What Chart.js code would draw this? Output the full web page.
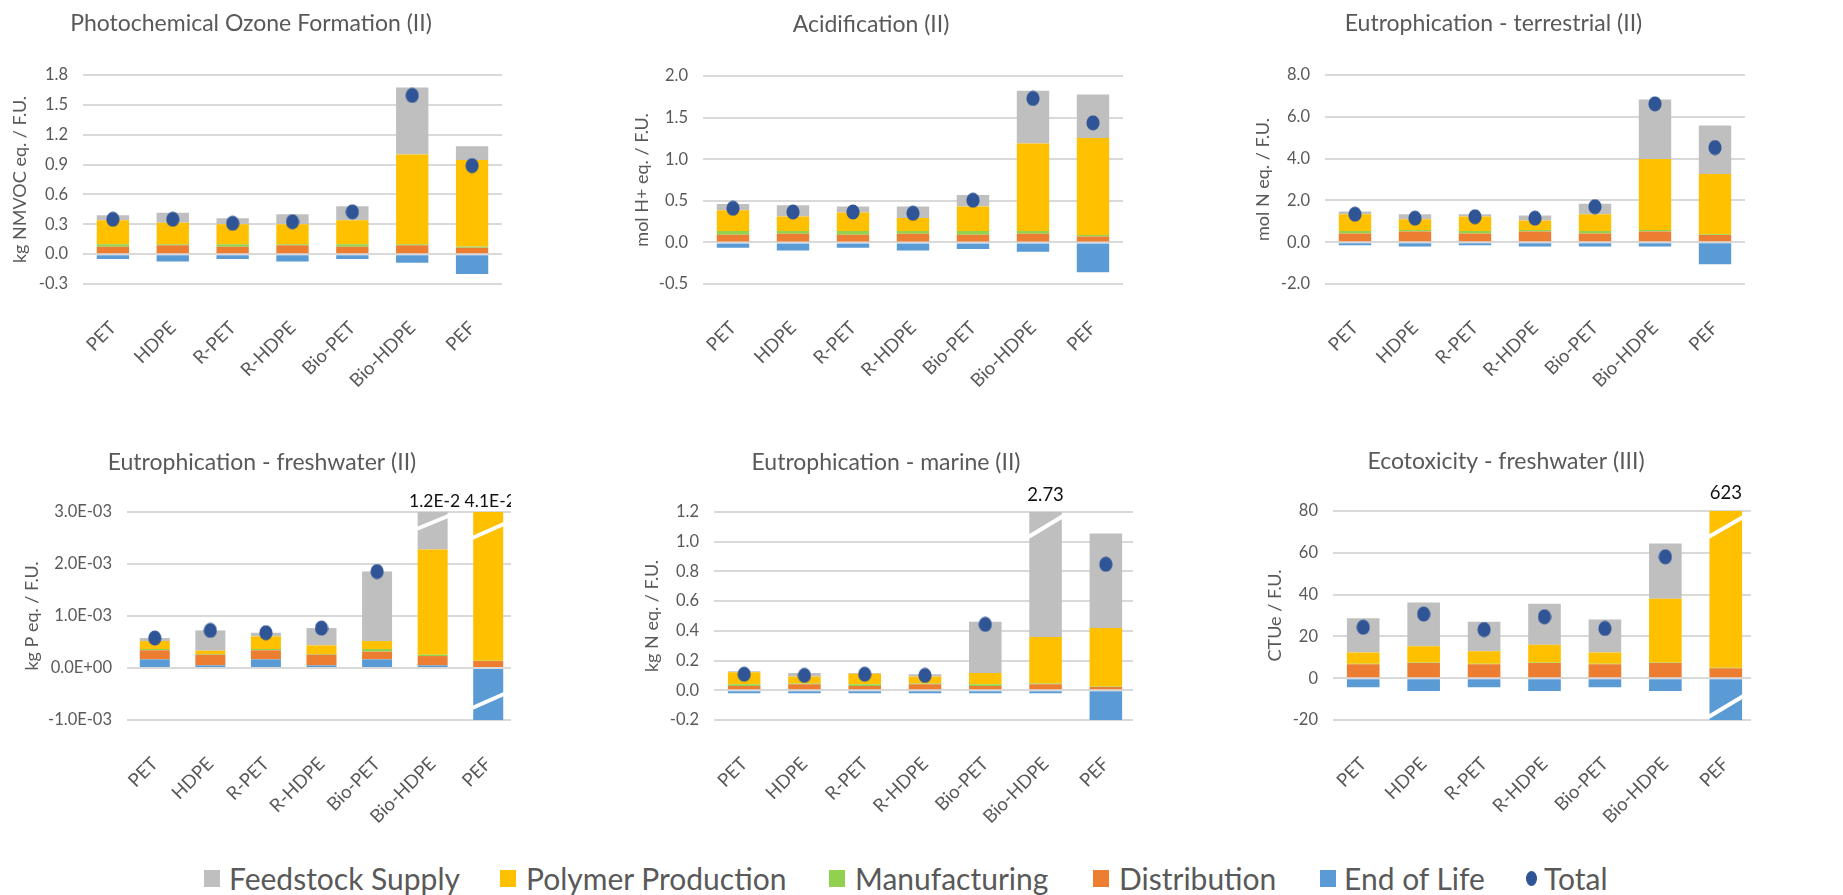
<!DOCTYPE html>
<html><head><meta charset="utf-8">
<script src="https://cdn.jsdelivr.net/npm/chart.js"></script>
<style>
html,body{margin:0;padding:0;background:#fff;}
body{width:1843px;height:895px;position:relative;overflow:hidden;font-family:Lato, sans-serif;}
.wrap{position:absolute;overflow:hidden;}
.wrap canvas{position:absolute;top:0;}
.lg{position:absolute;top:862px;height:32px;line-height:32px;font-size:30px;color:#595959;white-space:nowrap;}
.sq{position:absolute;top:8px;width:16px;height:17px;}
.dot{position:absolute;top:9px;width:11px;height:15px;border-radius:50%;}
.lg .tx{position:absolute;top:0;}
</style></head>
<body>
<div class="wrap" id="w1" style="left:0px;top:0px;width:508px;height:410px"><canvas id="c1"></canvas></div>
<div class="wrap" id="w2" style="left:619px;top:0px;width:510px;height:410px"><canvas id="c2"></canvas></div>
<div class="wrap" id="w3" style="left:1242px;top:0px;width:508px;height:410px"><canvas id="c3"></canvas></div>
<div class="wrap" id="w4" style="left:8px;top:430px;width:503px;height:420px"><canvas id="c4"></canvas></div>
<div class="wrap" id="w5" style="left:636px;top:430px;width:497px;height:420px"><canvas id="c5"></canvas></div>
<div class="wrap" id="w6" style="left:1256px;top:430px;width:495px;height:420px"><canvas id="c6"></canvas></div>

<div class="lg" style="left:204px"><span class="sq" style="left:0;background:#BFBFBF"></span><span class="tx" style="left:25px">Feedstock Supply</span></div>
<div class="lg" style="left:500px"><span class="sq" style="left:0;background:#FFC000"></span><span class="tx" style="left:26px">Polymer Production</span></div>
<div class="lg" style="left:829px"><span class="sq" style="left:0;background:#92D050"></span><span class="tx" style="left:26px">Manufacturing</span></div>
<div class="lg" style="left:1093px"><span class="sq" style="left:0;background:#ED7D31"></span><span class="tx" style="left:26px">Distribution</span></div>
<div class="lg" style="left:1320px"><span class="sq" style="left:0;background:#5B9BD5"></span><span class="tx" style="left:24px">End of Life</span></div>
<div class="lg" style="left:1526px"><span class="dot" style="left:0;background:#2F5597"></span><span class="tx" style="left:18px">Total</span></div>

<script>
// ---------- DATA ----------
const categories = ['PET','HDPE','R-PET','R-HDPE','Bio-PET','Bio-HDPE','PEF'];
const seriesNames = ['End of Life','Distribution','Manufacturing','Polymer Production','Feedstock Supply','Total'];

// Photochemical Ozone Formation (II)
const ozoneEndOfLife    = [-0.05,-0.075,-0.05,-0.075,-0.05,-0.087,-0.20];
const ozoneDistribution = [0.075,0.09,0.075,0.09,0.075,0.09,0.064];
const ozoneManufacturing= [0.025,0.01,0.025,0.01,0.025,0.01,0.013];
const ozonePolymer      = [0.24,0.215,0.20,0.20,0.24,0.90,0.868];
const ozoneFeedstock    = [0.05,0.10,0.06,0.10,0.14,0.675,0.14];
const ozoneTotal        = [0.35,0.35,0.31,0.325,0.425,1.595,0.89];
const ozoneTicks        = [-0.3,0,0.3,0.6,0.9,1.2,1.5,1.8];
const ozoneTickLabels   = ['-0.3','0.0','0.3','0.6','0.9','1.2','1.5','1.8'];

// Acidification (II)
const acidEndOfLife    = [-0.064,-0.097,-0.064,-0.097,-0.08,-0.113,-0.358];
const acidDistribution = [0.093,0.105,0.093,0.105,0.093,0.105,0.072];
const acidManufacturing= [0.044,0.032,0.044,0.032,0.044,0.032,0.017];
const acidPolymer      = [0.249,0.173,0.221,0.157,0.293,1.053,1.167];
const acidFeedstock    = [0.077,0.137,0.072,0.136,0.141,0.633,0.523];
const acidTotal        = [0.41,0.366,0.366,0.35,0.507,1.73,1.437];
const acidTicks        = [-0.5,0,0.5,1.0,1.5,2.0];
const acidTickLabels   = ['-0.5','0.0','0.5','1.0','1.5','2.0'];

// Eutrophication - terrestrial (II)
const terrEndOfLife    = [-0.14,-0.21,-0.14,-0.21,-0.21,-0.21,-1.06];
const terrDistribution = [0.42,0.51,0.42,0.51,0.42,0.51,0.35];
const terrManufacturing= [0.12,0.07,0.12,0.07,0.12,0.07,0.03];
const terrPolymer      = [0.80,0.52,0.69,0.46,0.80,3.40,2.88];
const terrFeedstock    = [0.13,0.24,0.11,0.24,0.50,2.85,2.32];
const terrTotal        = [1.34,1.15,1.22,1.15,1.70,6.62,4.53];
const terrTicks        = [-2,0,2,4,6,8];
const terrTickLabels   = ['-2.0','0.0','2.0','4.0','6.0','8.0'];

// Eutrophication - freshwater (II)
const freshEndOfLife    = [0.000166,0.000051,0.000166,0.000051,0.000166,0.000051,-0.0025];
const freshDistribution = [0.000174,0.000205,0.000174,0.000205,0.000147,0.000179,0.000134];
const freshManufacturing= [0.000025,0.000014,0.000025,0.000014,0.000052,0.000026,0.000006];
const freshPolymer      = [0.000153,0.000063,0.000243,0.000165,0.000153,0.002024,0.04336];
const freshFeedstock    = [0.000058,0.00039,0.00007,0.000333,0.001337,0.00972,0];
const freshTotal        = [0.000576,0.000723,0.000678,0.000768,0.001855,0.012,0.041];
const freshTicks        = [-0.001,0,0.001,0.002,0.003];
const freshTickLabels   = ['-1.0E-03','0.0E+00','1.0E-03','2.0E-03','3.0E-03'];
const freshBreakLabels  = ['','','','','','1.2E-2','4.1E-2'];

// Eutrophication - marine (II)
const marEndOfLife    = [-0.02,-0.02,-0.02,-0.02,-0.02,-0.02,-0.206];
const marDistribution = [0.029,0.04,0.029,0.04,0.029,0.04,0.022];
const marManufacturing= [0.011,0.005,0.011,0.005,0.011,0.005,0.003];
const marPolymer      = [0.081,0.047,0.072,0.047,0.077,0.314,0.394];
const marFeedstock    = [0.007,0.025,0.005,0.016,0.345,2.391,0.637];
const marTotal        = [0.108,0.10,0.108,0.10,0.444,2.73,0.848];
const marTicks        = [-0.2,0,0.2,0.4,0.6,0.8,1.0,1.2];
const marTickLabels   = ['-0.2','0.0','0.2','0.4','0.6','0.8','1.0','1.2'];
const marBreakLabels  = ['','','','','','2.73',''];

// Ecotoxicity - freshwater (III)
const ecoEndOfLife    = [-4.3,-6.1,-4.3,-6.1,-4.3,-6.1,-32];
const ecoDistribution = [6.7,7.3,6.7,7.3,6.7,7.3,4.8];
const ecoManufacturing= [0.2,0.2,0.2,0.2,0.2,0.2,0.2];
const ecoPolymer      = [5.4,7.8,6.0,8.5,5.4,30.5,650];
const ecoFeedstock    = [16.4,20.9,14.1,19.6,15.8,26.4,0];
const ecoTotal        = [24.4,30.7,23.3,29.4,23.8,58.1,623];
const ecoTicks        = [-20,0,20,40,60,80];
const ecoTickLabels   = ['-20','0','20','40','60','80'];
const ecoBreakLabels  = ['','','','','','','623'];

// ---------- STYLE ----------
const COLORS = ['#5B9BD5','#ED7D31','#92D050','#FFC000','#BFBFBF'];
const TOTAL_COLOR = '#2F5597';
const TEXT = '#595959';
const FONT = 'Lato';
const TITLE_SIZE = 23;

// slightly tall elliptical marker like the original
const dotImg = (() => {
  const c = document.createElement('canvas'); c.width = 14; c.height = 16;
  const g = c.getContext('2d'); g.fillStyle = TOTAL_COLOR;
  g.beginPath(); g.ellipse(7, 8, 6.6, 7.6, 0, 0, Math.PI * 2); g.fill();
  return c;
})();

const breakPlugin = {
  id: 'breaks',
  afterDatasetsDraw(chart, args, opts) {
    const ctx = chart.ctx, a = chart.chartArea;
    (opts.marks || []).forEach(m => {
      const bar = chart.getDatasetMeta(m.ds).data[m.idx];
      const x0 = bar.x - bar.width / 2 - 1, x1 = bar.x + bar.width / 2 + (m.ext || 3);
      const yb = m.edge === 'top' ? a.top : a.bottom;
      ctx.save();
      ctx.strokeStyle = '#fff'; ctx.lineWidth = 4;
      ctx.beginPath(); ctx.moveTo(x0, yb + m.y0); ctx.lineTo(x1, yb + m.y1); ctx.stroke();
      ctx.restore();
    });
    if (opts.labels) {
      ctx.save();
      ctx.fillStyle = '#111'; ctx.font = opts.labelSize + 'px ' + FONT;
      ctx.textAlign = 'center'; ctx.textBaseline = 'middle';
      opts.labels.forEach((t, i) => {
        if (!t) return;
        const x = chart.scales.x.getPixelForValue(i) + (opts.labelShift || 0);
        ctx.fillText(t, x, a.top - opts.labelOffset);
      });
      ctx.restore();
    }
  }
};

function makeChart(id, spec) {
  const cv = document.getElementById(id);
  cv.width = spec.w; cv.height = spec.h;
  cv.style.left = '0px';
  const titleLH = TITLE_SIZE * 1.2;
  const tpTop = spec.titleY - titleLH / 2;
  const tpBottom = spec.top - tpTop - titleLH;
  const series = spec.series;
  const datasets = series.slice(0, 5).map((d, k) => ({
    type: 'bar', label: seriesNames[k], data: d, backgroundColor: COLORS[k],
    borderWidth: 0, barPercentage: 0.54, categoryPercentage: 1, stack: 'lca'
  }));
  datasets.push({
    type: 'line', label: 'Total', data: series[5], showLine: false, stack: 'total',
    pointStyle: dotImg, pointRadius: 7, pointHoverRadius: 7, pointBackgroundColor: TOTAL_COLOR,
    pointBorderWidth: 0, borderColor: TOTAL_COLOR, order: -1
  });
  return new Chart(cv, {
    data: { labels: categories, datasets },
    plugins: [breakPlugin],
    options: {
      responsive: false, animation: false, devicePixelRatio: 1,
      layout: { autoPadding: false, padding: { left: 0, right: spec.w - spec.right, top: 0, bottom: 0 } },
      plugins: {
        legend: { display: false }, tooltip: { enabled: false },
        title: { display: true, text: spec.title, color: TEXT,
          font: { family: FONT, size: TITLE_SIZE, weight: 'normal', lineHeight: 1.2 },
          padding: { top: tpTop, bottom: tpBottom } },
        breaks: { marks: spec.marks || [], labels: spec.breakLabels, labelOffset: spec.labelOffset || 16,
          labelSize: spec.labelSize || 18, labelShift: spec.labelShift || 0 }
      },
      scales: {
        x: {
          stacked: true,
          grid: { display: false, drawTicks: true, tickLength: spec.xPad },
          border: { display: false },
          ticks: { color: TEXT, font: { family: FONT, size: 18.5 }, maxRotation: 45, minRotation: 45, autoSkip: false, padding: 4 },
          afterFit(s) { s.height = spec.h - spec.bottom; s.paddingLeft = 0; s.paddingRight = 0; }
        },
        y: {
          stacked: true, min: spec.ticks[0], max: spec.ticks[spec.ticks.length - 1],
          afterBuildTicks(s) { s.ticks = spec.ticks.map(v => ({ value: v })); },
          grid: { color: '#D9D9D9', lineWidth: 2, drawTicks: false },
          border: { display: false },
          ticks: { color: TEXT, font: { family: FONT, size: 16.5 }, padding: 15,
            callback: (v, i) => spec.tickLabels[i] },
          title: { display: true, text: spec.yTitle, color: TEXT,
            font: { family: FONT, size: 18, weight: 'normal', lineHeight: 1.2 },
            padding: { top: spec.ytPad, bottom: 0 } },
          afterFit(s) { s.width = spec.left; }
        }
      }
    }
  });
}

// positions are relative to each wrapper
makeChart('c1', { w: 508, h: 410, left: 83, right: 502, top: 75, bottom: 284, titleY: 24, ytPad: 9, xPad: 29,
  title: 'Photochemical Ozone Formation (II)', yTitle: 'kg NMVOC eq. / F.U.',
  series: [ozoneEndOfLife, ozoneDistribution, ozoneManufacturing, ozonePolymer, ozoneFeedstock, ozoneTotal],
  ticks: ozoneTicks, tickLabels: ozoneTickLabels });

makeChart('c2', { w: 510, h: 410, left: 84, right: 504, top: 76, bottom: 284, titleY: 25, ytPad: 12, xPad: 29,
  title: 'Acidification (II)', yTitle: 'mol H+ eq. / F.U.',
  series: [acidEndOfLife, acidDistribution, acidManufacturing, acidPolymer, acidFeedstock, acidTotal],
  ticks: acidTicks, tickLabels: acidTickLabels });

makeChart('c3', { w: 508, h: 410, left: 83, right: 503, top: 75, bottom: 284, titleY: 24, ytPad: 10, xPad: 29,
  title: 'Eutrophication - terrestrial (II)', yTitle: 'mol N eq. / F.U.',
  series: [terrEndOfLife, terrDistribution, terrManufacturing, terrPolymer, terrFeedstock, terrTotal],
  ticks: terrTicks, tickLabels: terrTickLabels });

makeChart('c4', { w: 514, h: 420, left: 119, right: 508, top: 82, bottom: 290, titleY: 33, ytPad: 13, xPad: 29,
  title: 'Eutrophication - freshwater (II)', yTitle: 'kg P eq. / F.U.',
  series: [freshEndOfLife, freshDistribution, freshManufacturing, freshPolymer, freshFeedstock, freshTotal],
  ticks: freshTicks, tickLabels: freshTickLabels, breakLabels: freshBreakLabels, labelOffset: 11,
  labelSize: 17.5, labelShift: 2,
  marks: [ { ds: 4, idx: 5, edge: 'top', y0: 17, y1: 3 },
           { ds: 3, idx: 6, edge: 'top', y0: 26, y1: 11 },
           { ds: 0, idx: 6, edge: 'bottom', y0: -12, y1: -27 } ] });

makeChart('c5', { w: 506, h: 420, left: 78, right: 500, top: 82, bottom: 290, titleY: 33, ytPad: 5, xPad: 29,
  title: 'Eutrophication - marine (II)', yTitle: 'kg N eq. / F.U.',
  series: [marEndOfLife, marDistribution, marManufacturing, marPolymer, marFeedstock, marTotal],
  ticks: marTicks, tickLabels: marTickLabels, breakLabels: marBreakLabels, labelOffset: 17, labelSize: 18.5,
  marks: [ { ds: 4, idx: 5, edge: 'top', y0: 25, y1: 3 } ] });

makeChart('c6', { w: 506, h: 420, left: 77, right: 500, top: 81, bottom: 290, titleY: 32, ytPad: 8, xPad: 29,
  title: 'Ecotoxicity - freshwater (III)', yTitle: 'CTUe / F.U.',
  series: [ecoEndOfLife, ecoDistribution, ecoManufacturing, ecoPolymer, ecoFeedstock, ecoTotal],
  ticks: ecoTicks, tickLabels: ecoTickLabels, breakLabels: ecoBreakLabels, labelOffset: 18, labelSize: 18.5,
  marks: [ { ds: 3, idx: 6, edge: 'top', y0: 26, y1: 2, ext: 8 },
           { ds: 0, idx: 6, edge: 'bottom', y0: -3, y1: -25 } ] });
</script>
</body></html>
